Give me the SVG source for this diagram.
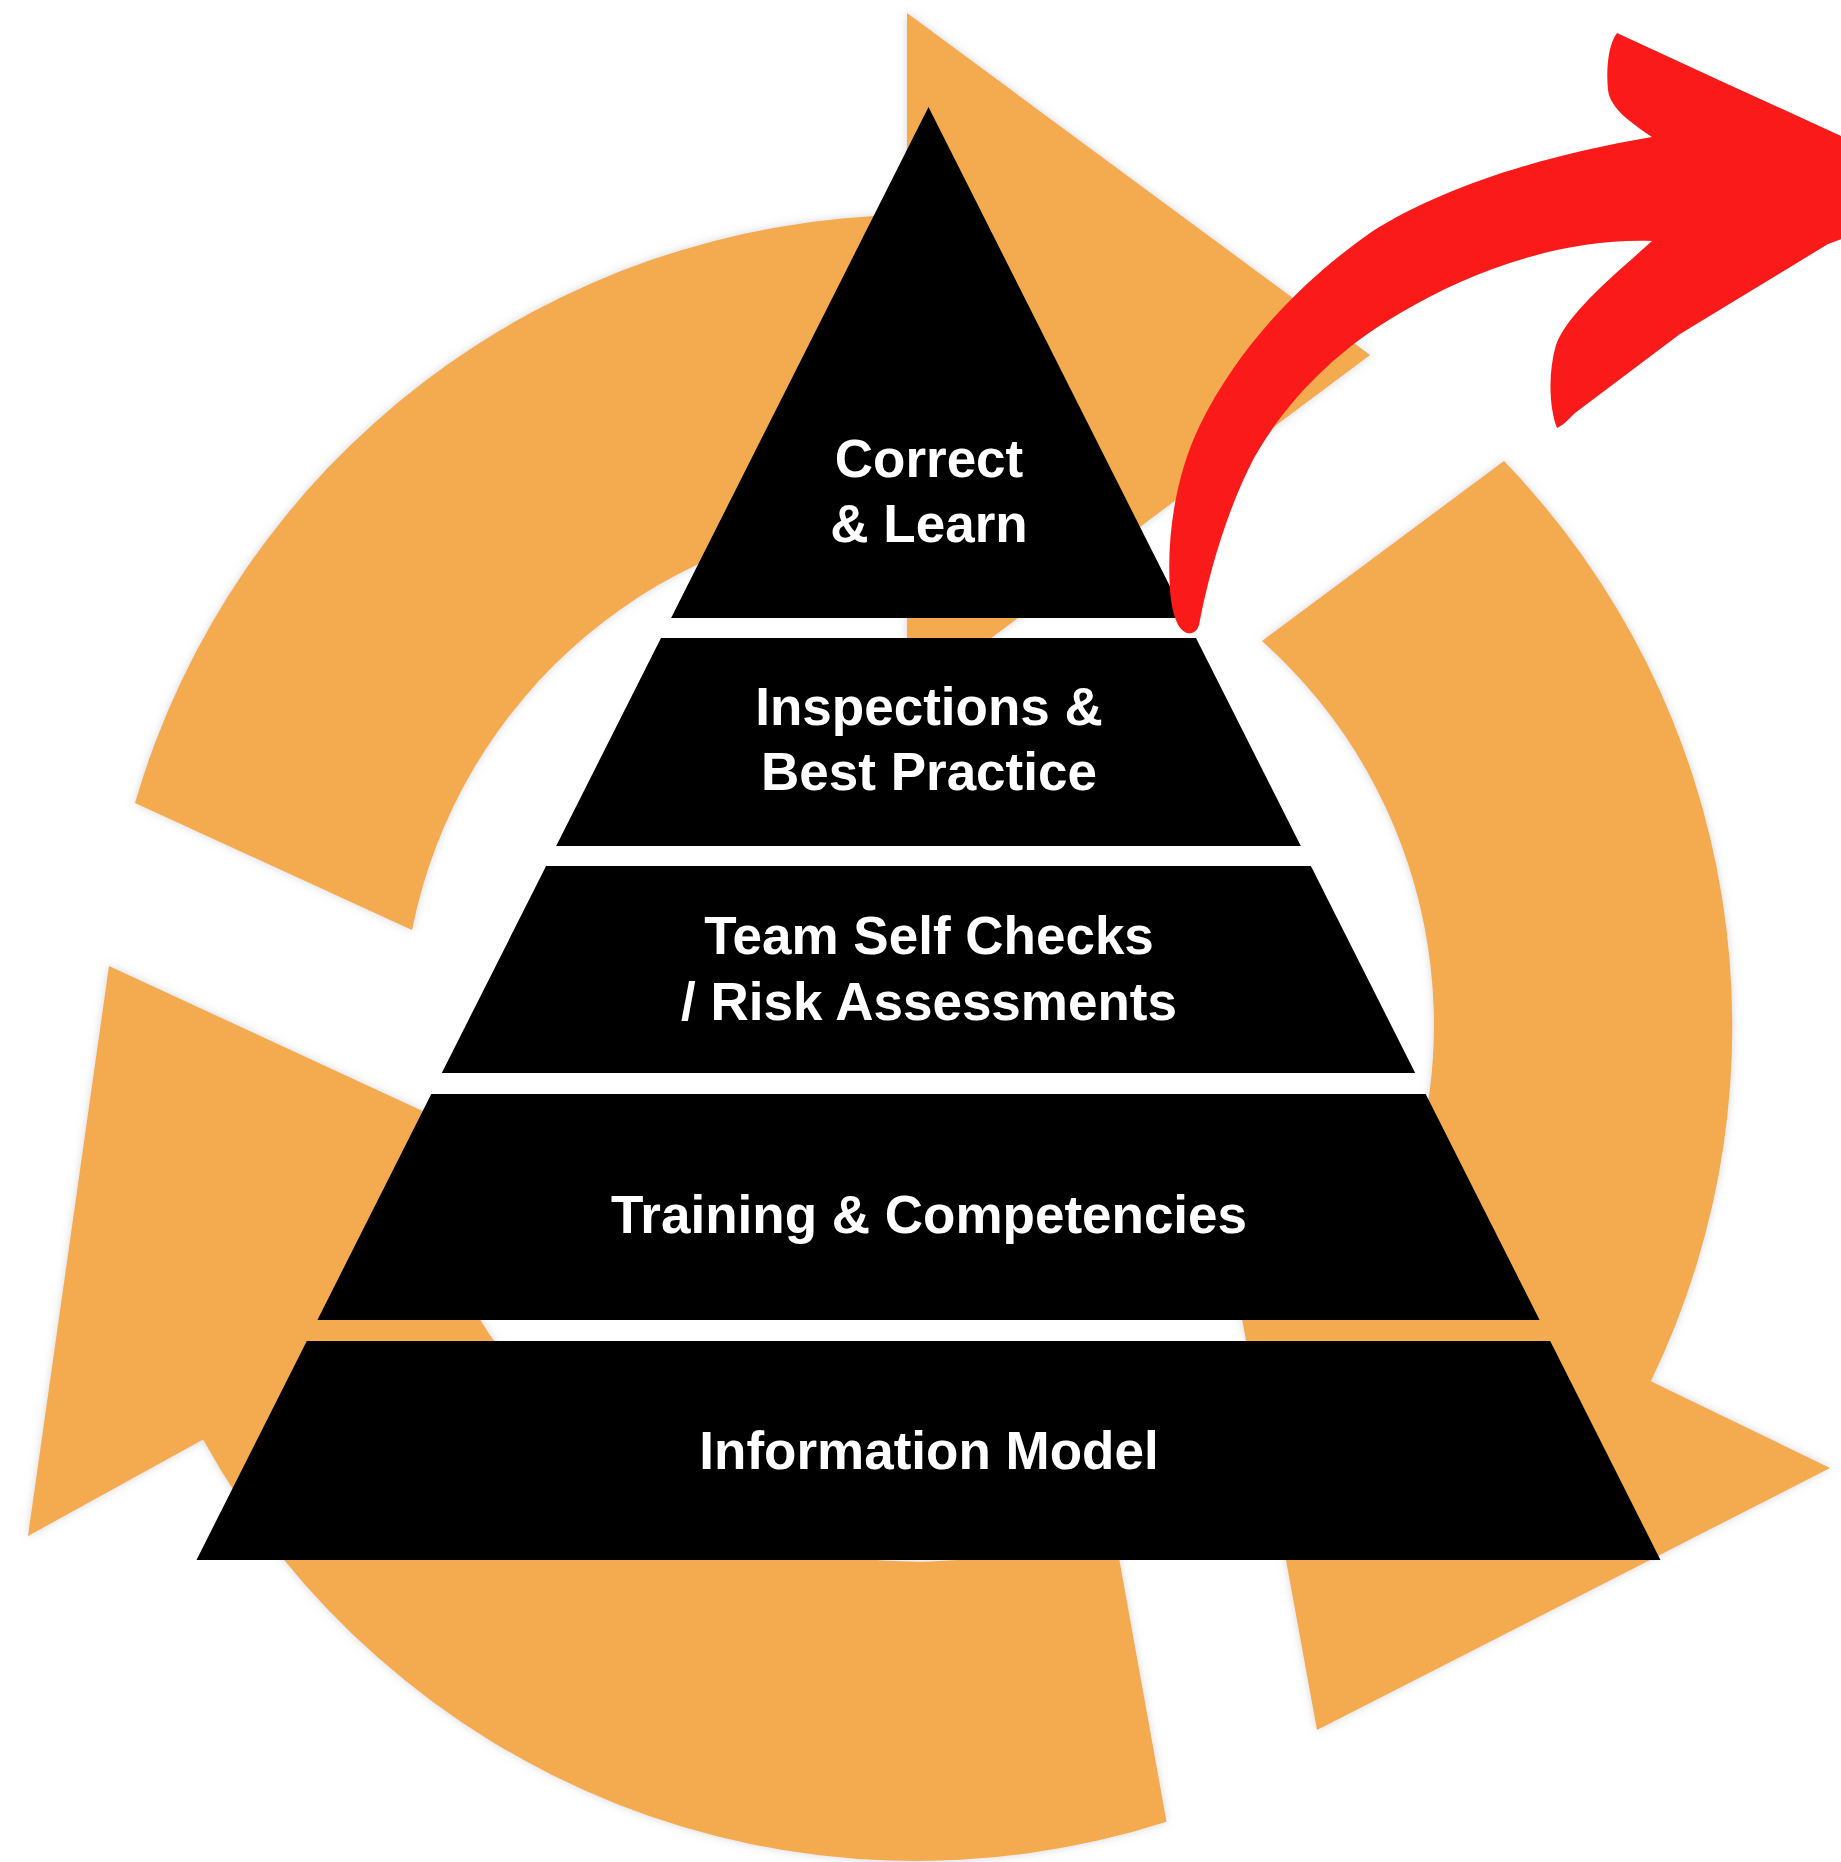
<svg xmlns="http://www.w3.org/2000/svg" width="1841" height="1862" viewBox="0 0 1841 1862">
  <defs>
    <filter id="glow" x="-10%" y="-10%" width="120%" height="120%">
      <feGaussianBlur in="SourceAlpha" stdDeviation="4"/>
      <feColorMatrix type="matrix" values="0 0 0 0 0.45  0 0 0 0 0.45  0 0 0 0 0.45  0 0 0 0.55 0"/>
      <feMerge>
        <feMergeNode/>
        <feMergeNode in="SourceGraphic"/>
      </feMerge>
    </filter>
  </defs>
  <style>
    .cycle { fill: #F4AA50; filter: url(#glow); }
    .tier { fill: #000000; }
    .label { fill: #FFFFFF; font-family: "Liberation Sans", Arial, Helvetica, sans-serif; font-weight: bold; font-size: 53px; text-anchor: middle; }
    .improve { fill: #FA1A1A; }
  </style>
  <rect width="1841" height="1862" fill="#FFFFFF"/>

  <g id="cycle-arrows">
    <path id="cycle-arrow-top" class="cycle" d="M135,803 A816,816 0 0 1 907,215 L907,13 L1370,355 L907,701 L907,515 A516,516 0 0 0 412,930 Z"/>
    <path id="cycle-arrow-right" class="cycle" d="M1504,461 A814,814 0 0 1 1650.8,1381.3 L1830,1468 L1317,1730 L1215,1170.6 L1381.7,1251.2 A515,515 0 0 0 1262,641 Z"/>
    <path id="cycle-arrow-bottom" class="cycle" d="M1166.5,1821.7 A814.5,814.5 0 0 1 203.1,1439.6 L28,1536 L109,966 L627.5,1205.8 L465.4,1295 A515,515 0 0 0 1112.7,1522.9 Z"/>
  </g>

  <g id="tier-correct-learn">
    <polygon class="tier" points="928.5,107 1185.9,618 671.1,618"/>
    <text class="label" x="929" y="477">Correct</text>
    <text class="label" x="929" y="542">&amp; Learn</text>
  </g>
  <g id="tier-inspections">
    <polygon class="tier" points="661,638 1196,638 1300.8,846 556.2,846"/>
    <text class="label" x="929" y="725">Inspections &amp;</text>
    <text class="label" x="929" y="790">Best Practice</text>
  </g>
  <g id="tier-self-checks">
    <polygon class="tier" points="546.1,866 1310.9,866 1415.2,1073 441.8,1073"/>
    <text class="label" x="929" y="954">Team Self Checks</text>
    <text class="label" x="929" y="1020">/ Risk Assessments</text>
  </g>
  <g id="tier-training">
    <polygon class="tier" points="431.3,1094 1425.7,1094 1539.6,1320 317.4,1320"/>
    <text class="label" x="929" y="1233">Training &amp; Competencies</text>
  </g>
  <g id="tier-information-model">
    <polygon class="tier" points="306.8,1341 1550.2,1341 1660.5,1560 196.5,1560"/>
    <text class="label" x="929" y="1469">Information Model</text>
  </g>

  <g id="connectors">
    <path id="improve-arrow" class="improve" d="M1187,633 C1178,630 1172,615 1170,590 C1166,530 1178,470 1200,425 C1238,348 1300,282 1370,233 C1440,188 1540,156 1652,137 C1630,122 1610,108 1608,90 C1606,70 1608,45 1617,33 L1723,82 L1850,140 L1850,236 L1828,244 L1680,334 L1575,413 C1568,420 1562,426 1557,428 C1549,408 1548,372 1556,345 C1568,312 1618,272 1652,241 C1560,238 1470,272 1402,312 C1332,352 1284,405 1254,458 C1228,508 1210,568 1199,625 C1197,632 1192,634 1187,633 Z"/>
  </g>
</svg>
